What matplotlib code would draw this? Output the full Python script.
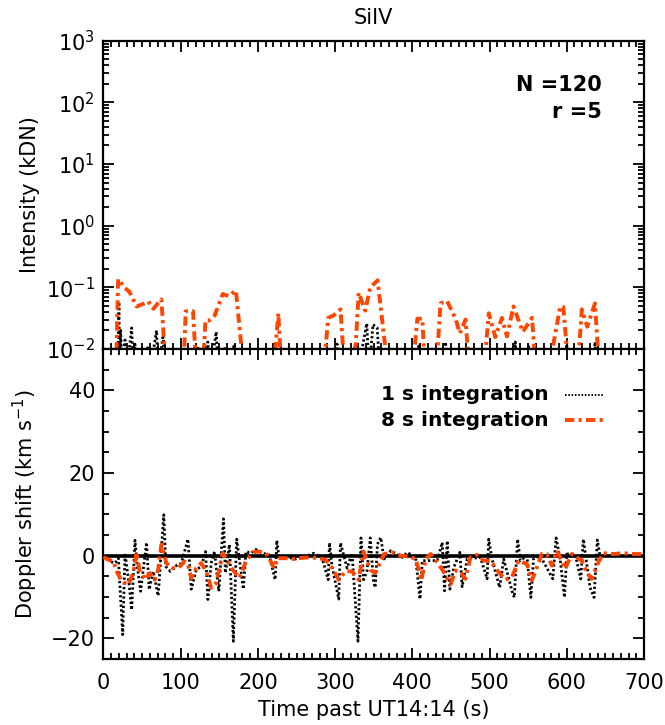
import numpy as np
import matplotlib
matplotlib.use('Agg')
import matplotlib.pyplot as plt
from matplotlib.ticker import MultipleLocator, LogLocator, NullFormatter

# ---- data ----
# 8 s integration, intensity (kDN); values below 0.01 are off-axis
t8_int = [0, 16, 19, 28, 33.5, 43, 51.5, 58, 64.5, 75, 81.5,
          103, 106.5, 116, 121,
          128, 132, 137, 144, 154.5, 162, 171.5, 183,
          219, 226.5, 231,
          284, 291, 298, 307, 313,
          324, 330.5, 339, 345.5, 355, 370,
          399, 406.5, 413, 417,
          430, 436.5, 445, 456, 461.5, 469, 474.5,
          491.5, 499, 507.5, 516, 522.5, 531, 543, 555, 561,
          574, 591.5, 595.5, 603.5,
          613, 619.5, 626.5, 636.5, 643, 700]
i8 = [0.003, 0.003, 0.136, 0.097, 0.085, 0.049, 0.054, 0.059, 0.045, 0.064, 0.003,
      0.003, 0.041, 0.041, 0.003,
      0.003, 0.029, 0.029, 0.035, 0.078, 0.072, 0.089, 0.003,
      0.003, 0.038, 0.003,
      0.003, 0.032, 0.035, 0.044, 0.003,
      0.003, 0.082, 0.042, 0.10, 0.13, 0.003,
      0.003, 0.031, 0.031, 0.003,
      0.003, 0.055, 0.060, 0.031, 0.018, 0.030, 0.003,
      0.003, 0.038, 0.0156, 0.032, 0.016, 0.049, 0.019, 0.032, 0.003,
      0.003, 0.049, 0.048, 0.003,
      0.003, 0.044, 0.023, 0.055, 0.003, 0.003]

# 1 s integration, intensity (kDN)
t1_int = [0, 18, 20, 21, 22.3, 24, 27.9, 30, 36.5, 39, 40.8, 43, 58, 60,
          68.7, 71, 77.3, 80, 98.7, 101, 124.5, 127, 135.2, 138, 146, 149,
          158, 160, 169.5, 172, 300, 302.6, 305, 324, 326, 329, 341, 344,
          349, 354.5, 358, 406, 408.6, 411, 441, 443, 446, 531, 533.3, 536,
          548, 550.5, 553, 598, 600, 602, 634, 636.6, 639, 645]
i1 = [0.003, 0.003, 0.058, 0.004, 0.020, 0.004, 0.014, 0.004, 0.022, 0.004, 0.012, 0.004, 0.011, 0.004,
      0.020, 0.004, 0.017, 0.004, 0.0095, 0.004, 0.011, 0.004, 0.013, 0.004, 0.019, 0.004,
      0.011, 0.004, 0.012, 0.004, 0.004, 0.012, 0.004, 0.004, 0.012, 0.004, 0.026, 0.004,
      0.025, 0.022, 0.004, 0.004, 0.012, 0.004, 0.004, 0.013, 0.004, 0.004, 0.013, 0.004,
      0.004, 0.011, 0.004, 0.004, 0.012, 0.004, 0.004, 0.013, 0.004, 0.003]

# 8 s integration, Doppler shift (km/s)
t8_dop = [0, 4.3, 12.9, 17.2, 23.6, 32.2, 38.6, 42.9, 46.4, 49.4, 53.6, 60.1, 66.5,
          70.8, 75.1, 81.5, 88, 96.6, 105.2, 109.4, 113.7, 120.2, 126.6, 133,
          139.5, 146, 154.5, 160.9, 167.4, 176, 184.5, 193.1, 201.7, 210.3,
          216.7, 221, 225.3, 236, 244.6, 253.2, 266.1, 279, 287.6, 296.1,
          304.7, 313.3, 321.9, 330.5, 336.9, 345.5, 351.9, 363.4, 374.2,
          385, 395.7, 404.3, 408.6, 411.6, 417.2, 423.7, 432.3, 440.9, 449.5,
          456, 462.4, 468.8, 475.3, 483.9, 492.5, 501.1, 511.8, 520.4, 529,
          537.6, 548.4, 554.8, 561.3, 567.7, 574.2, 580.6, 587.1, 593.5,
          597.8, 606.5, 619.4, 625.8, 632.3, 640.9, 647.3, 660.2, 673.1,
          686, 696.8]
v8 = [-0.3, -0.8, -1.4, -3.8, -6.2, -7.0, -4.2, 0.8, -3.4, -4.2, -5.8, -4.2, -5.8,
      -3.4, 2.7, -1.8, -3.0, -3.0, -1.4, -2.2, -5.4, -3.0, -1.8, -3.8,
      -7.8, -6.6, 0.6, -1.4, -3.4, -5.4, -1.4, 0.8, 1.0, 0.6,
      -1.4, -3.0, -0.6, -0.6, -0.8, -0.6, -0.4, -0.6, -1.0, -3.0,
      -5.8, -3.8, -3.8, -5.8, 1.0, -3.4, -4.2, 0.4, 0.8,
      0.0, -0.2, -0.8, -3.6, -6.0, -0.8, 0.4, -1.6, -4.0, -6.9,
      -3.6, -4.0, -5.6, -0.4, 0.2, -1.2, -1.2, -4.0, -5.8, -5.2,
      -1.2, -2.0, -6.0, -2.8, 0.4, 0.4, -2.4, 1.2, -1.2,
      -3.2, 0.4, -1.2, -4.0, -5.6, -1.6, 0.6, 0.4, 0.6,
      0.4, 0.4]

# 1 s integration, Doppler shift (km/s)
t1_dop = [0, 2.1, 8.6, 15, 19.3, 24.9, 27.9, 33.5, 36.5, 40.8, 43.8, 48.1, 55.8,
          59.2, 64.4, 70.8, 78.1, 80.7, 86.7, 92.3, 100.9, 109.4, 113.7, 120.2,
          126.6, 132.2, 135.2, 139.5, 143.8, 149.4, 155.4, 157.9, 163.1, 168.2,
          172.5, 178.1, 181.1, 184.5, 191, 197.4, 206, 214.6, 222.3, 224.5,
          227.5, 236, 249, 261.8, 272.5, 283.3, 291, 292.7, 296.1, 304.7,
          306.9, 315.5, 321.9, 329.6, 333.5, 336.9, 341.2, 345.5, 349.8,
          352, 354.8, 359.1, 363.4, 372, 387.1, 393.5, 404.3, 409.9, 412.9,
          432.3, 438.7, 441.7, 445.2, 448.6, 453.8, 461.5, 464.5, 471, 488.2,
          496.8, 498.9, 503.2, 513.1, 518.3, 529, 532, 536.3, 539.8, 548.4,
          553.5, 557, 565.6, 581.9, 586.2, 591.4, 597, 600, 610.8, 618.1,
          621.5, 625, 630.1, 635.3, 639.6, 643]
v1 = [-0.2, -0.3, -1.4, -1.8, -0.6, -19.1, 0.6, -7.4, -13.1, 3.7, -2.6, -8.6, 3.2,
      -8.2, -3.8, -9.7, 9.9, -2.6, -3.8, -2.6, -1.8, 4.0, -8.1, -3.4,
      -2.6, 1.0, -10.6, -1.8, 1.0, -8.6, 8.9, -4.2, 2.7, -20.7,
      4.0, -3.8, -8.1, 1.0, 0.6, 1.5, 0.6, 0.2, -5.8, 3.7,
      -0.6, -0.3, -0.8, -0.2, 0.6, -0.6, -5.8, 3.1, -2.6, -10.5,
      3.1, -3.0, 0.6, -20.7, 4.3, -5.8, -3.8, 4.3, -6.5,
      -7.7, 2.8, 4.4, -0.8, 1.2, -0.4, 0.8, -0.5, -10.5, -1.2,
      -1.2, 3.2, -8.5, 3.6, -8.1, -2.8, 0.8, -7.5, -0.8, -0.4,
      -5.6, 4.0, -0.8, -7.7, -0.8, -8.5, -10.1, 4.0, -1.2, 0.0,
      -10.1, -0.8, 0.0, -5.6, 4.3, -0.8, -10.1, 0.4, 0.4, -5.6,
      4.0, -0.8, -7.7, -10.1, 3.8, 0.0]

RED = '#ff4500'
DOT = (0, (0.8, 0.9))
DASHDOT = (0, (2.4, 1.1, 0.8, 1.1))
FS = 15
LW_DOT = 2.0
LW_DD = 2.8

fig = plt.figure(figsize=(6.65, 7.25), dpi=100)
left, width = 0.1556, 0.8128
ax1 = fig.add_axes([left, 0.5186, width, 0.4252])
ax2 = fig.add_axes([left, 0.0910, width, 0.4276])

# ---- top panel: intensity ----
ax1.plot(t1_int, i1, color='k', lw=LW_DOT, ls=DOT)
ax1.plot(t8_int, i8, color=RED, lw=LW_DD, ls=DASHDOT)
ax1.set_yscale('log')
ax1.set_ylim(0.01, 1000)
ax1.set_xlim(0, 700)
ax1.set_title('SiIV', fontsize=FS, pad=12)
ax1.set_ylabel('Intensity (kDN)', fontsize=FS)
ax1.yaxis.set_major_locator(LogLocator(base=10, numticks=10))
ax1.yaxis.set_minor_locator(LogLocator(base=10, subs=np.arange(2, 10), numticks=20))
ax1.yaxis.set_minor_formatter(NullFormatter())
ax1.tick_params(axis='x', labelbottom=False)
ax1.text(0.922, 0.857, 'N =120', transform=ax1.transAxes, ha='right', va='center',
         fontsize=15, fontweight='bold')
ax1.text(0.922, 0.769, 'r =5', transform=ax1.transAxes, ha='right', va='center',
         fontsize=15, fontweight='bold')

# ---- bottom panel: Doppler shift ----
ax2.plot(t1_dop, v1, color='k', lw=LW_DOT, ls=DOT, zorder=2)
ax2.axhline(0, color='k', lw=2.6, zorder=2.5)
ax2.plot(t8_dop, v8, color=RED, lw=LW_DD, ls=DASHDOT, zorder=3)
ax2.set_xlim(0, 700)
ax2.set_ylim(-25, 50)
ax2.set_ylabel('Doppler shift (km s$^{-1}$)', fontsize=FS)
ax2.set_xlabel('Time past UT14:14 (s)', fontsize=FS, labelpad=5)
ax2.yaxis.set_major_locator(MultipleLocator(20))
ax2.yaxis.set_minor_locator(MultipleLocator(5))

# legend drawn by hand, like the reference
ax2.text(0.824, 0.852, '1 s integration', transform=ax2.transAxes, ha='right',
         va='center', fontsize=14.5, fontweight='bold')
ax2.text(0.824, 0.771, '8 s integration', transform=ax2.transAxes, ha='right',
         va='center', fontsize=14.5, fontweight='bold')
ax2.plot([0.854, 0.924], [0.852, 0.852], transform=ax2.transAxes, color='k',
         lw=1.4, ls=DOT)
ax2.plot([0.854, 0.924], [0.771, 0.771], transform=ax2.transAxes, color=RED,
         lw=LW_DD, ls=DASHDOT)

for ax in (ax1, ax2):
    ax.xaxis.set_major_locator(MultipleLocator(100))
    ax.xaxis.set_minor_locator(MultipleLocator(10))
    ax.tick_params(which='both', direction='in', top=True, right=True,
                   width=1.3, labelsize=FS)
    ax.tick_params(which='major', length=8)
    ax.tick_params(which='minor', length=4)
    ax.tick_params(axis='x', pad=10)
    ax.tick_params(axis='y', pad=6)
    for s in ax.spines.values():
        s.set_linewidth(1.6)
    ax.yaxis.set_label_coords(-0.117, 0.5)

fig.savefig('out.png', dpi=100)
